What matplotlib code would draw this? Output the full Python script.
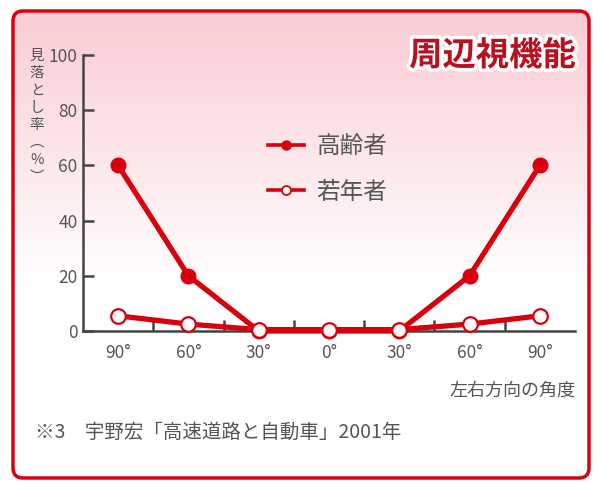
import matplotlib
matplotlib.use("Agg")
import matplotlib.pyplot as plt
import matplotlib.patheffects as pe
from matplotlib.patches import FancyBboxPatch
from matplotlib.lines import Line2D
import numpy as np

plt.rcParams['font.family'] = ['Noto Sans CJK JP', 'DejaVu Sans']

# データ
angles = ["90°", "60°", "30°", "0°", "30°", "60°", "90°"]
elderly = [60, 20, 0, 0, 0, 20, 60]
young = [5.5, 2.5, 0.5, 0.5, 0.5, 2.5, 5.5]
yticks = [0, 20, 40, 60, 80, 100]
labels = ["高齢者", "若年者"]

red = "#d9000d"
gray = "#555555"

fig = plt.figure(figsize=(5.98, 4.82), dpi=100)

# 背景（ピンクのグラデーション）
bg = fig.add_axes([0, 0, 1, 1], zorder=0)
bg.set_xlim(0, 598)
bg.set_ylim(482, 0)
bg.axis("off")
grad = np.linspace(0, 1, 256)[:, None]
top = np.array([0.98, 0.80, 0.83])
bot = np.array([1.0, 1.0, 1.0])
w = np.clip(grad * 1.7, 0, 1)
img = top[None, None, :] * (1 - w[..., None]) + bot[None, None, :] * w[..., None]
img = np.repeat(img, 2, axis=1)
im = bg.imshow(img, extent=[12, 590, 480, 10], aspect="auto", zorder=0)
box = FancyBboxPatch((13, 11), 576, 467, boxstyle="round,pad=0,rounding_size=10",
                     fill=False, edgecolor=red, linewidth=2.5, zorder=2)
bg.add_patch(box)
im.set_clip_path(box)

ax = fig.add_axes([83 / 598, 151 / 482, 492 / 598, 276 / 482], zorder=1)
ax.patch.set_alpha(0)
x = np.arange(len(angles))

ax.plot(x, elderly, color=red, lw=3.8, marker="o", ms=10.5, mfc=red, mec=red,
        clip_on=False, zorder=3)
ax.plot(x, young, color=red, lw=3.8, marker="o", ms=10.5, mfc="white", mec=red,
        mew=1.6, clip_on=False, zorder=4)

ax.set_xlim(-0.5, 6.5)
ax.set_ylim(0, 100)
for s in ["top", "right"]:
    ax.spines[s].set_visible(False)
for s in ["left", "bottom"]:
    ax.spines[s].set_color("#444444")
    ax.spines[s].set_linewidth(1.8)

ax.set_yticks(yticks)
ax.set_yticklabels([str(v) for v in yticks], fontsize=12.5, color=gray)
ax.tick_params(axis="y", direction="in", length=8, width=1.8, color="#444444", pad=4)
ax.set_xticks(x)
ax.set_xticklabels(angles, fontsize=12.5, color=gray)
ax.tick_params(axis="x", length=0, pad=9)
ax.set_xticks(x[:-1] + 0.5, minor=True)
ax.tick_params(axis="x", which="minor", direction="in", length=8, width=1.8, color="#444444")

handles = [Line2D([], [], color=red, lw=2.6, marker="o", ms=6.5, mfc=red, mec=red),
           Line2D([], [], color=red, lw=2.6, marker="o", ms=6.5, mfc="white", mec=red, mew=1.3)]
leg = ax.legend(handles, labels, loc="center left", bbox_to_anchor=(247 / 598, 1 - 169.5 / 482),
                bbox_transform=fig.transFigure, frameon=False, fontsize=17,
                handlelength=1.5, handletextpad=0.55, labelspacing=0.95, labelcolor=gray)

# 縦書きの軸ラベル
fig.text(37 / 598, 1 - 49 / 482, "見\n落\nと\nし\n率\n︵\n%\n︶", fontsize=10.5,
         color=gray, ha="center", va="top", linespacing=1.3)

fig.text(575 / 598, 1 - 391 / 482, "左右方向の角度", fontsize=13, color=gray,
         ha="right", va="center")
fig.text(35 / 598, 1 - 432 / 482, "※3　宇野宏「高速道路と自動車」2001年", fontsize=14,
         color=gray, ha="left", va="center")

fig.text(576 / 598, 1 - 56 / 482, "周辺視機能", fontsize=24, fontweight="bold",
         color="#b8101e", ha="right", va="center",
         path_effects=[pe.withStroke(linewidth=5, foreground="white")])

fig.savefig("out.png", dpi=100)
